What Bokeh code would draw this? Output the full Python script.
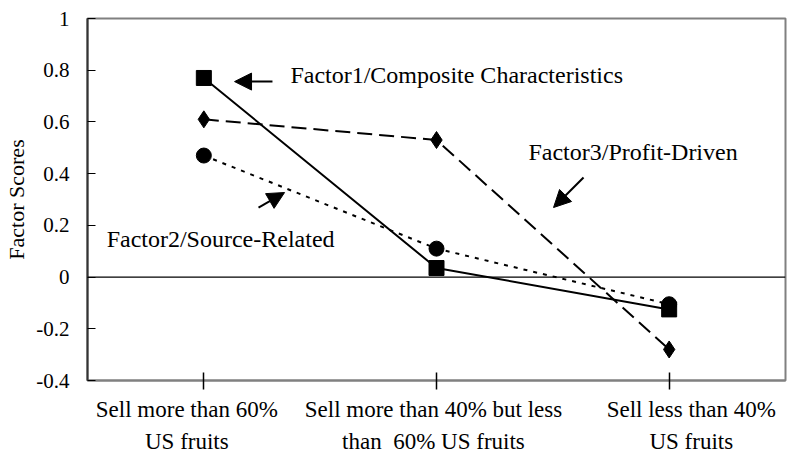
from bokeh.plotting import figure
from bokeh.models import Range1d, FixedTicker, Span, Label, Arrow, NormalHead, LinearAxis
from bokeh.embed import file_html
from bokeh.resources import INLINE

categories = ["Sell more than 60%\nUS fruits",
              "Sell more than 40% but less\nthan \u00a060% US fruits",
              "Sell less than 40%\nUS fruits"]
factor1 = [0.77, 0.035, -0.125]
factor2 = [0.47, 0.11, -0.105]
factor3 = [0.61, 0.53, -0.28]
y_ticks = [-0.4, -0.2, 0, 0.2, 0.4, 0.6, 0.8, 1]

FONT = "Liberation Serif"
xs = [i + 0.5 for i in range(len(categories))]
# horizontal nudges of the category labels relative to their ticks (as in the original)
label_nudge = [-0.073, -0.013, 0.095]
label_xs = [x + d for x, d in zip(xs, label_nudge)]

p = figure(width=787, height=457, output_backend="svg", toolbar_location=None,
           x_range=Range1d(0, len(categories)), y_range=Range1d(-0.4, 1.0),
           min_border_left=87, min_border_right=2, min_border_top=18, min_border_bottom=77)
p.xgrid.visible = False
p.ygrid.visible = False
p.outline_line_color = "#808080"
p.outline_line_width = 2
p.background_fill_color = "white"
p.border_fill_color = "white"

# y axis
p.yaxis.ticker = FixedTicker(ticks=y_ticks)
p.yaxis.major_label_overrides = {t: ("%g" % t) for t in y_ticks}
p.yaxis.axis_label = "Factor Scores"
p.yaxis.axis_label_text_font = FONT
p.yaxis.axis_label_text_font_style = "normal"
p.yaxis.axis_label_text_font_size = "22px"
p.yaxis.axis_label_text_color = "black"
p.yaxis.axis_label_standoff = 4
p.yaxis.major_label_text_font = FONT
p.yaxis.major_label_text_font_size = "21px"
p.yaxis.major_label_text_color = "black"
p.yaxis.axis_line_color = "#333333"
p.yaxis.axis_line_width = 2
p.yaxis.major_tick_in = 8
p.yaxis.major_tick_out = 0
p.yaxis.major_tick_line_color = "black"
p.yaxis.minor_tick_line_color = None
p.yaxis.major_label_standoff = 18

# x axis: ticks
xa = p.xaxis[0]
xa.ticker = FixedTicker(ticks=xs)
xa.major_label_overrides = {x: "" for x in xs}
xa.major_label_text_font_size = "0px"
xa.major_label_standoff = 0
xa.axis_line_color = "#808080"
xa.axis_line_width = 2
xa.major_tick_in = 8
xa.major_tick_out = 9
xa.major_tick_line_color = "black"
xa.major_tick_line_width = 1.5
xa.minor_tick_line_color = None

# x axis: category labels
xl = LinearAxis(ticker=FixedTicker(ticks=label_xs),
                major_label_overrides={x: c for x, c in zip(label_xs, categories)},
                major_label_text_font=FONT, major_label_text_font_size="23px",
                major_label_text_color="black", major_label_text_line_height=1.28,
                major_label_standoff=7, axis_line_color=None,
                major_tick_line_color=None, minor_tick_line_color=None,
                major_tick_in=0, major_tick_out=0)
p.add_layout(xl, "below")

p.add_layout(Span(location=0, dimension="width", line_color="black", line_width=1.2))

# series
p.line(xs, factor3, line_color="black", line_width=2, line_dash="15 7")
p.scatter(xs, factor3, marker="diamond", size=17, color="black")
p.line(xs, factor2, line_color="black", line_width=2, line_dash="4 6")
p.scatter(xs, factor2, marker="circle", size=15, color="black")
p.line(xs, factor1, line_color="black", line_width=2)
p.scatter(xs, factor1, marker="square", size=15, color="black")

# annotations
def lab(x, y, t, align="left"):
    p.add_layout(Label(x=x, y=y, text=t, text_font=FONT, text_font_size="24px",
                       text_baseline="middle", text_align=align, text_color="black"))

def arr(x0, y0, x1, y1):
    p.add_layout(Arrow(x_start=x0, y_start=y0, x_end=x1, y_end=y1, line_width=2,
                       line_color="black",
                       end=NormalHead(size=17, fill_color="black", line_color="black")))

lab(0.872, 0.783, "Factor1/Composite Characteristics")
arr(0.795, 0.756, 0.632, 0.756)
lab(0.572, 0.149, "Factor2/Source-Related", "center")
arr(0.735, 0.269, 0.847, 0.327)
lab(1.895, 0.482, "Factor3/Profit-Driven")
arr(2.132, 0.385, 2.003, 0.269)

open("out.html", "w").write(file_html(p, INLINE))
